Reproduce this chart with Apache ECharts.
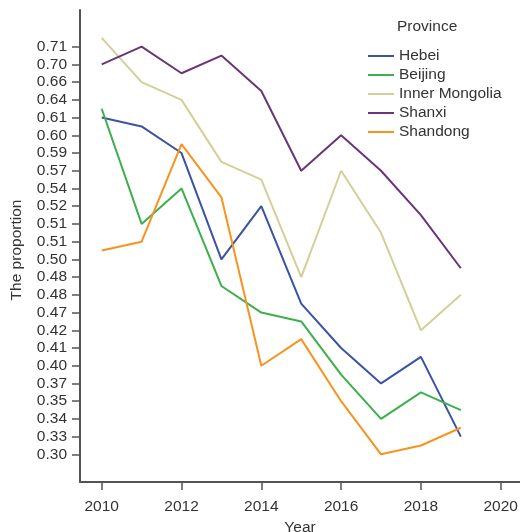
<!DOCTYPE html>
<html>
<head>
<meta charset="utf-8">
<style>
  html, body { margin: 0; padding: 0; background: #fff; }
  #chart { width: 520px; height: 532px; }
</style>
<script src="https://cdn.jsdelivr.net/npm/echarts@6/dist/echarts.min.js"></script>
</head>
<body>
<div id="chart"></div>
<script>
// Years on the horizontal axis and the labelled year ticks.
const years = [2010, 2011, 2012, 2013, 2014, 2015, 2016, 2017, 2018, 2019];
const xTicks = [2010, 2012, 2014, 2016, 2018, 2020];

// The proportion axis is ordinal: its ticks are evenly spaced and carry these
// labels, listed from the bottom tick upwards.
const yTickLabels = ['0.30', '0.33', '0.34', '0.35', '0.37', '0.40', '0.41', '0.42',
  '0.47', '0.48', '0.48', '0.50', '0.51', '0.51', '0.52', '0.54', '0.57', '0.59',
  '0.60', '0.61', '0.64', '0.66', '0.70', '0.71'];

// Each province's position on that scale, counted in tick steps from the 0.30 tick.
const hebei         = [19, 18.5, 17, 11, 14, 8.5, 6, 4, 5.5, 1];
const beijing       = [19.5, 13, 15, 9.5, 8, 7.5, 4.5, 2, 3.5, 2.5];
const innerMongolia = [23.5, 21, 20, 16.5, 15.5, 10, 16, 12.5, 7, 9];
const shanxi        = [22, 23, 21.5, 22.5, 20.5, 16, 18, 16, 13.5, 10.5];
const shandong      = [11.5, 12, 17.5, 14.5, 5, 6.5, 3, 0, 0.5, 1.5];

const provinces = ['Hebei', 'Beijing', 'Inner Mongolia', 'Shanxi', 'Shandong'];
const colors = ['#3a54a4', '#3cb04a', '#d4cf97', '#6b3479', '#f7931e'];
const seriesValues = [hebei, beijing, innerMongolia, shanxi, shandong];

const yTickPositions = yTickLabels.map((_, i) => i);
const axisColor = '#575252';
const textColor = '#333';
const fontFamily = '"Liberation Sans", Arial, sans-serif';
const fontSize = 15.5;

const chart = echarts.init(document.getElementById('chart'), null, { renderer: 'canvas' });

chart.setOption({
  animation: false,
  backgroundColor: '#fff',
  textStyle: { fontFamily: fontFamily, color: textColor },
  title: {
    text: 'Province',
    left: 397,
    top: 19,
    padding: 0,
    textStyle: { fontSize: fontSize, fontWeight: 'normal', color: textColor, fontFamily: fontFamily }
  },
  legend: {
    orient: 'vertical',
    left: 368,
    top: 48,
    padding: 0,
    itemWidth: 26,
    itemHeight: 2,
    itemGap: 3,
    icon: 'rect',
    data: provinces,
    textStyle: { fontSize: fontSize, color: textColor, fontFamily: fontFamily }
  },
  grid: {
    left: 80, top: 10, width: 440, height: 472,
    containLabel: false,
    outerBoundsMode: 'none'
  },
  xAxis: {
    type: 'value',
    min: 2009.456,
    max: 2020.483,
    name: 'Year',
    nameLocation: 'middle',
    nameGap: 35,
    nameTextStyle: { fontSize: fontSize, color: textColor },
    axisLine: { show: true, onZero: false, lineStyle: { color: axisColor, width: 2 } },
    axisTick: { show: true, customValues: xTicks, length: 8, lineStyle: { color: axisColor, width: 1.5 } },
    axisLabel: { customValues: xTicks, margin: 17, fontSize: fontSize, color: textColor, formatter: v => String(v) },
    splitLine: { show: false }
  },
  yAxis: {
    type: 'value',
    min: -1.56,
    max: 25.07,
    name: 'The proportion',
    nameLocation: 'middle',
    nameGap: 55,
    nameTextStyle: { fontSize: fontSize, color: textColor, padding: [0, 8, 0, 0] },
    axisLine: { show: true, onZero: false, lineStyle: { color: axisColor, width: 2 } },
    axisTick: { show: true, customValues: yTickPositions, length: 8, lineStyle: { color: axisColor, width: 1.5 } },
    axisLabel: {
      customValues: yTickPositions,
      margin: 13,
      fontSize: fontSize,
      color: textColor,
      formatter: v => yTickLabels[Math.round(v)]
    },
    splitLine: { show: false }
  },
  series: provinces.map((name, k) => ({
    name: name,
    type: 'line',
    symbol: 'none',
    color: colors[k],
    lineStyle: { width: 2, color: colors[k] },
    data: years.map((yr, i) => [yr, seriesValues[k][i]])
  }))
});
</script>
</body>
</html>
